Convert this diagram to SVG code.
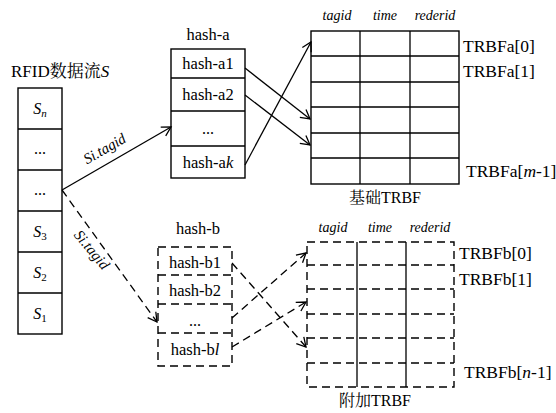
<svg xmlns="http://www.w3.org/2000/svg" width="556" height="413" viewBox="0 0 556 413">
<defs>
<style>
.box{fill:#fff;stroke:#000;stroke-width:1.4}
.dbox{fill:none;stroke:#000;stroke-width:1.4;stroke-dasharray:8 5}
.ln{fill:none;stroke:#000;stroke-width:1.3}
.dl{fill:none;stroke:#000;stroke-width:1.3;stroke-dasharray:8 5}
</style>
<marker id="ah" markerWidth="12" markerHeight="12" refX="10" refY="6" orient="auto" markerUnits="userSpaceOnUse">
<path d="M1,1 L10,6 L1,11" fill="none" stroke="#000" stroke-width="1.3"/>
</marker>
</defs>

<g id="stream">
<text x="11" y="77" font-family="Liberation Serif, Noto Serif CJK SC, serif" font-size="17">RFID数据流<tspan font-style="italic">S</tspan></text>
<rect x="18" y="88" width="44" height="246" class="box"/>
<path d="M18,129H62M18,170H62M18,211H62M18,252H62M18,293H62" class="ln"/>
<text x="40" y="114" font-family="Liberation Serif, serif" font-size="16" text-anchor="middle"><tspan font-style="italic">S</tspan><tspan font-style="italic" font-size="11" dy="3">n</tspan></text>
<text x="40" y="154" font-family="Liberation Serif, serif" font-size="16" text-anchor="middle">...</text>
<text x="40" y="195" font-family="Liberation Serif, serif" font-size="16" text-anchor="middle">...</text>
<text x="40" y="237" font-family="Liberation Serif, serif" font-size="16" text-anchor="middle"><tspan font-style="italic">S</tspan><tspan font-size="11" dy="3">3</tspan></text>
<text x="40" y="278" font-family="Liberation Serif, serif" font-size="16" text-anchor="middle"><tspan font-style="italic">S</tspan><tspan font-size="11" dy="3">2</tspan></text>
<text x="40" y="319" font-family="Liberation Serif, serif" font-size="16" text-anchor="middle"><tspan font-style="italic">S</tspan><tspan font-size="11" dy="3">1</tspan></text>
</g>

<g id="hash-a">
<text x="208" y="40" font-family="Liberation Serif, serif" font-size="16.5" text-anchor="middle">hash-a</text>
<rect x="171" y="49" width="74" height="129" class="box"/>
<path d="M171,78H245M171,111H245M171,146H245" class="ln"/>
<text x="208" y="69" font-family="Liberation Serif, serif" font-size="16.5" text-anchor="middle">hash-a1</text>
<text x="208" y="100" font-family="Liberation Serif, serif" font-size="16.5" text-anchor="middle">hash-a2</text>
<text x="208" y="134" font-family="Liberation Serif, serif" font-size="16" text-anchor="middle">...</text>
<text x="208" y="168" font-family="Liberation Serif, serif" font-size="16.5" text-anchor="middle">hash-a<tspan font-style="italic">k</tspan></text>
</g>

<g id="hash-b">
<text x="198" y="234" font-family="Liberation Serif, serif" font-size="16.5" text-anchor="middle">hash-b</text>
<rect x="158" y="247" width="74" height="119" class="dbox"/>
<path d="M158,275H232M158,304H232M158,333H232" class="dl"/>
<text x="195" y="268" font-family="Liberation Serif, serif" font-size="16.5" text-anchor="middle">hash-b1</text>
<text x="195" y="296" font-family="Liberation Serif, serif" font-size="16.5" text-anchor="middle">hash-b2</text>
<text x="195" y="326" font-family="Liberation Serif, serif" font-size="16" text-anchor="middle">...</text>
<text x="195" y="355" font-family="Liberation Serif, serif" font-size="16.5" text-anchor="middle">hash-b<tspan font-style="italic">l</tspan></text>
</g>

<g id="trbf-a">
<text x="337" y="20" font-family="Liberation Serif, serif" font-size="14" font-style="italic" text-anchor="middle">tagid</text>
<text x="385" y="20" font-family="Liberation Serif, serif" font-size="14" font-style="italic" text-anchor="middle">time</text>
<text x="435" y="20" font-family="Liberation Serif, serif" font-size="14" font-style="italic" text-anchor="middle">rederid</text>
<rect x="311" y="31" width="148" height="153" class="box"/>
<path d="M360,31V184M410,31V184M311,56H459M311,82H459M311,107H459M311,133H459M311,158H459" class="ln"/>
<text x="463" y="52" font-family="Liberation Serif, serif" font-size="17.5">TRBFa[0]</text>
<text x="463" y="77" font-family="Liberation Serif, serif" font-size="17.5">TRBFa[1]</text>
<text x="466" y="177" font-family="Liberation Serif, serif" font-size="17.5">TRBFa[<tspan font-style="italic">m</tspan>-1]</text>
<text x="385" y="203" font-family="Liberation Serif, Noto Serif CJK SC, serif" font-size="16" text-anchor="middle">基础TRBF</text>
</g>

<g id="trbf-b">
<text x="333" y="232" font-family="Liberation Serif, serif" font-size="14" font-style="italic" text-anchor="middle">tagid</text>
<text x="380" y="232" font-family="Liberation Serif, serif" font-size="14" font-style="italic" text-anchor="middle">time</text>
<text x="430" y="232" font-family="Liberation Serif, serif" font-size="14" font-style="italic" text-anchor="middle">rederid</text>
<rect x="307" y="242" width="147" height="145" class="dbox"/>
<path d="M307,265H454M307,289H454M307,314H454M307,338H454M307,363H454" class="dl"/>
<path d="M357,242V387M406,242V387" class="ln"/>
<text x="459" y="259" font-family="Liberation Serif, serif" font-size="17.5">TRBFb[0]</text>
<text x="459" y="285" font-family="Liberation Serif, serif" font-size="17.5">TRBFb[1]</text>
<text x="464" y="378" font-family="Liberation Serif, serif" font-size="17.5">TRBFb[<tspan font-style="italic">n</tspan>-1]</text>
<text x="375" y="406" font-family="Liberation Serif, Noto Serif CJK SC, serif" font-size="16" text-anchor="middle">附加TRBF</text>
</g>

<g id="connectors">
<path d="M62,190L171,127" class="ln" marker-end="url(#ah)"/>
<path d="M62,190L157,322" class="dl" marker-end="url(#ah)"/>
<text x="0" y="0" font-family="Liberation Serif, serif" font-size="15" font-style="italic" transform="translate(107,153) rotate(-30)" text-anchor="middle">Si.tagid</text>
<text x="0" y="0" font-family="Liberation Serif, serif" font-size="15" font-style="italic" transform="translate(88,253) rotate(50)" text-anchor="middle">Si.tagid</text>
<path d="M245,68L310,119" class="ln" marker-end="url(#ah)"/>
<path d="M245,95L310,145" class="ln" marker-end="url(#ah)"/>
<path d="M245,165L311,42" class="ln" marker-end="url(#ah)"/>
<path d="M232,263L306,347" class="dl" marker-end="url(#ah)"/>
<path d="M232,318L306,253" class="dl" marker-end="url(#ah)"/>
<path d="M232,347L306,302" class="dl" marker-end="url(#ah)"/>
</g>
</svg>
